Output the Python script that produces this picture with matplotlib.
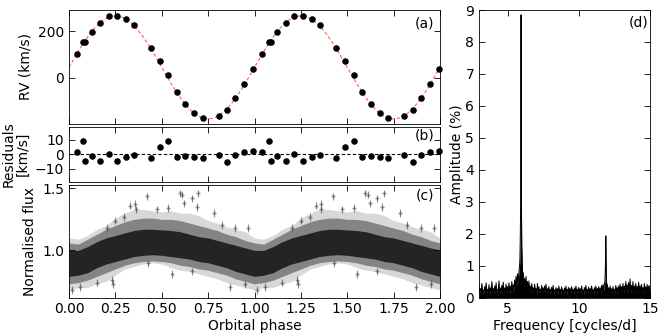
import numpy as np
import matplotlib
matplotlib.use("Agg")
import matplotlib.pyplot as plt

plt.rcParams['font.family'] = ['DejaVu Sans']
plt.rcParams['font.size'] = 10

# ---------------- data ----------------
# RV measurements (one orbital cycle, phase-folded, shown twice)
rv_phase = [0.041, 0.076, 0.087, 0.122, 0.168, 0.214, 0.260, 0.308, 0.352, 0.442,
            0.488, 0.535, 0.582, 0.628, 0.676, 0.720, 0.807, 0.853, 0.897, 0.945, 0.993]
rv_value = [100, 153, 153, 196, 233, 264, 264, 253, 224, 126,
            71, 11, -61, -113, -150, -173, -163, -137, -87, -27, 37]
rv_resid = [1.4, 9.0, -4.9, -1.2, -4.9, 0.0, -4.4, -1.9, -0.5, -2.6,
            4.9, 9.5, -2.1, -1.4, -1.9, -2.6, -0.7, -5.1, -0.7, 1.9, 2.3]
# orbital model parameters (systemic velocity, semi-amplitude)
gamma_kms = 45.0
K_kms = 220.0

# phase-folded light curve envelope
lc_phase = [0.00, 0.05, 0.10, 0.15, 0.20, 0.25, 0.30, 0.35, 0.40, 0.45, 0.50,
            0.55, 0.60, 0.65, 0.70, 0.75, 0.80, 0.85, 0.90, 0.95, 1.00]
lc_core_hi = [1.00, 1.00, 1.03, 1.07, 1.10, 1.12, 1.14, 1.16, 1.17, 1.17, 1.165,
              1.16, 1.15, 1.13, 1.11, 1.10, 1.08, 1.06, 1.04, 1.02, 1.00]
lc_core_lo = [0.79, 0.80, 0.82, 0.86, 0.89, 0.91, 0.93, 0.95, 0.96, 0.965, 0.96,
              0.95, 0.94, 0.93, 0.91, 0.90, 0.88, 0.86, 0.83, 0.81, 0.79]
lc_halo_hi = [1.06, 1.05, 1.09, 1.13, 1.17, 1.20, 1.23, 1.25, 1.26, 1.26, 1.25,
              1.25, 1.24, 1.22, 1.20, 1.18, 1.16, 1.13, 1.11, 1.08, 1.06]
lc_halo_lo = [0.73, 0.74, 0.76, 0.79, 0.82, 0.85, 0.88, 0.90, 0.91, 0.915, 0.91,
              0.90, 0.88, 0.87, 0.85, 0.84, 0.82, 0.80, 0.77, 0.75, 0.73]
lc_outer_hi = [1.10, 1.09, 1.12, 1.17, 1.20, 1.26, 1.30, 1.33, 1.33, 1.32, 1.31,
               1.32, 1.30, 1.30, 1.28, 1.24, 1.22, 1.19, 1.17, 1.15, 1.10]
lc_outer_lo = [0.68, 0.70, 0.70, 0.73, 0.75, 0.80, 0.85, 0.87, 0.89, 0.90, 0.89,
               0.86, 0.84, 0.83, 0.81, 0.79, 0.77, 0.74, 0.72, 0.70, 0.68]
# individual outlying photometric points
out_phase = [0.422, 0.598, 0.611, 0.661, 0.697, 0.688, 0.356, 0.360, 0.473, 0.535,
             0.298, 0.203, 0.783, 0.823, 0.895, 0.967, 0.250, 0.330, 0.620,
             0.014, 0.059, 0.230, 0.236, 0.428, 0.553, 0.661, 0.868, 0.949, 0.150]
out_flux = [1.435, 1.46, 1.45, 1.42, 1.46, 1.35, 1.375, 1.33, 1.33, 1.34,
            1.27, 1.18, 1.30, 1.205, 1.18, 1.18, 1.24, 1.36, 1.38,
            0.68, 0.705, 0.76, 0.73, 0.895, 0.81, 0.83, 0.705, 0.73, 0.74]

# amplitude spectrum (frequency in cycles/d, amplitude in %)
# local maxima of the noise, on a 0.1 c/d grid
noise_top_freq = [round(3.0 + 0.1 * i, 2) for i in range(121)]
noise_top_amp = [0.36, 0.28, 0.44, 0.24, 0.34, 0.46, 0.26, 0.40, 0.30, 0.50,
                 0.28, 0.36, 0.46, 0.26, 0.52, 0.30, 0.38, 0.48, 0.30, 0.42,
                 0.34, 0.46, 0.36, 0.50, 0.40, 0.55, 0.66, 0.74, 0.80, 0.9,
                 1.0, 0.76, 0.60, 0.66, 0.50, 0.52, 0.36, 0.44, 0.30, 0.42,
                 0.28, 0.44, 0.34, 0.26, 0.38, 0.30, 0.36, 0.42, 0.28, 0.34,
                 0.26, 0.32, 0.38, 0.24, 0.31, 0.28, 0.36, 0.26, 0.33, 0.24,
                 0.30, 0.36, 0.26, 0.32, 0.28, 0.34, 0.25, 0.30, 0.36, 0.26,
                 0.32, 0.28, 0.36, 0.24, 0.31, 0.38, 0.26, 0.33, 0.28, 0.36,
                 0.25, 0.31, 0.36, 0.28, 0.34, 0.30, 0.38, 0.40, 0.45, 0.5,
                 0.40, 0.31, 0.36, 0.28, 0.34, 0.26, 0.38, 0.31, 0.36, 0.42,
                 0.34, 0.44, 0.36, 0.50, 0.40, 0.47, 0.58, 0.38, 0.50, 0.36,
                 0.44, 0.34, 0.48, 0.36, 0.41, 0.31, 0.44, 0.34, 0.41, 0.36, 0.38]
# local minima of the noise, halfway between the maxima
noise_low_freq = [round(3.05 + 0.1 * i, 2) for i in range(120)]
noise_low_amp = [0.14, 0.18, 0.11, 0.16, 0.20, 0.13, 0.17, 0.10, 0.19, 0.15,
                 0.12, 0.18, 0.14, 0.21, 0.11, 0.16, 0.19, 0.13, 0.17, 0.15,
                 0.18, 0.12, 0.20, 0.16, 0.24, 0.30, 0.36, 0.44, 0.5, 0.6,
                 0.50, 0.36, 0.32, 0.26, 0.21, 0.16, 0.19, 0.13, 0.18, 0.15,
                 0.11, 0.17, 0.14, 0.19, 0.12, 0.16, 0.18, 0.13, 0.15, 0.11,
                 0.17, 0.14, 0.12, 0.18, 0.15, 0.10, 0.16, 0.13, 0.17, 0.12,
                 0.15, 0.11, 0.18, 0.14, 0.12, 0.16, 0.10, 0.15, 0.13, 0.17,
                 0.11, 0.14, 0.16, 0.12, 0.18, 0.13, 0.15, 0.11, 0.17, 0.14,
                 0.12, 0.16, 0.13, 0.18, 0.11, 0.15, 0.17, 0.20, 0.28, 0.25,
                 0.18, 0.14, 0.16, 0.12, 0.18, 0.15, 0.11, 0.17, 0.14, 0.19,
                 0.13, 0.16, 0.20, 0.14, 0.18, 0.22, 0.15, 0.19, 0.13, 0.17,
                 0.14, 0.18, 0.12, 0.16, 0.19, 0.13, 0.17, 0.15, 0.18, 0.14]
# the orbital peak and its first harmonic
peak_freq = [5.84, 5.87, 5.90, 5.925, 5.95, 5.975, 6.0, 6.03, 6.06,
             11.83, 11.86, 11.88, 11.90, 11.92, 11.95, 11.97]
peak_amp = [0.95, 1.2, 2.0, 3.0, 8.85, 3.0, 1.6, 1.1, 0.8,
            0.45, 0.8, 1.2, 1.93, 1.0, 0.5, 0.35]

# ---------------- figure ----------------
fig = plt.figure(figsize=(6.64, 3.36), dpi=100)
L, R = 69 / 664, 440 / 664
def box(top, bot, left=L, right=R):
    return [left, 1 - bot / 336, right - left, (bot - top) / 336]

ax_a = fig.add_axes(box(10, 123.5))
ax_b = fig.add_axes(box(127, 181.5))
ax_c = fig.add_axes(box(185, 297.5))
ax_d = fig.add_axes(box(10, 297.5, 479 / 664, 650 / 664))

for ax in (ax_a, ax_b, ax_c, ax_d):
    ax.tick_params(direction='in', top=True, right=True, length=4, width=0.6,
                   labelsize=10)
    for s in ax.spines.values():
        s.set_linewidth(0.6)

xt = [0.0, 0.25, 0.5, 0.75, 1.0, 1.25, 1.5, 1.75, 2.0]
ph_rv = np.array(rv_phase)
ph2 = np.concatenate([ph_rv, ph_rv + 1])

# (a) RV curve
model_ph = np.linspace(0, 2, 400)
ax_a.plot(model_ph, gamma_kms + K_kms * np.sin(2 * np.pi * model_ph),
          ls='--', color='#ff6060', lw=0.8, dashes=(3, 2))
ax_a.plot(ph2, rv_value * 2, 'o', color='black', ms=3.7, clip_on=False, zorder=3)
ax_a.set_xlim(0, 2)
ax_a.set_ylim(-195, 290)
ax_a.set_yticks([0, 200])
ax_a.set_xticks(xt)
ax_a.set_xticklabels([])
ax_a.set_ylabel('RV (km/s)')
ax_a.text(0.985, 0.885, '(a)', transform=ax_a.transAxes, ha='right', va='center')

# (b) residuals
ax_b.axhline(0, color='black', ls='--', lw=0.8, dashes=(3, 2))
ax_b.plot(ph2, rv_resid * 2, 'o', color='black', ms=3.7, clip_on=False, zorder=3)
ax_b.set_xlim(0, 2)
ax_b.set_ylim(-19, 19)
ax_b.set_yticks([-10, 0, 10])
ax_b.set_xticks(xt)
ax_b.set_xticklabels([])
ax_b.set_ylabel('Residuals\n[km/s]', linespacing=1.0)
ax_b.text(0.985, 0.85, '(b)', transform=ax_b.transAxes, ha='right', va='center')

# (c) light curve
lp = np.array(lc_phase)
lp2 = np.concatenate([lp, lp[1:] + 1])
def tile(a):
    a = np.array(a)
    return np.concatenate([a, a[1:]])
ax_c.fill_between(lp2, tile(lc_outer_lo), tile(lc_outer_hi), color='0.5',
                  alpha=0.3, lw=0)
ax_c.fill_between(lp2, tile(lc_halo_lo), tile(lc_halo_hi), color='0.3',
                  alpha=0.6, lw=0)
ax_c.fill_between(lp2, tile(lc_core_lo), tile(lc_core_hi), color='0.1',
                  alpha=0.9, lw=0)
op = np.array(out_phase)
of = np.array(out_flux)
ax_c.errorbar(np.concatenate([op, op + 1]), np.concatenate([of, of]), yerr=0.03,
              fmt='+', color='0.3', ms=3, elinewidth=0.8, alpha=0.6)
ax_c.set_xlim(0, 2)
ax_c.set_ylim(0.62, 1.527)
ax_c.set_yticks([1.0, 1.5])
ax_c.set_xticks(xt)
ax_c.set_xticklabels(['%.2f' % v for v in xt])
ax_c.set_xlabel('Orbital phase', labelpad=2)
ax_c.set_ylabel('Normalised flux')
ax_c.text(0.985, 0.91, '(c)', transform=ax_c.transAxes, ha='right', va='center')

# (d) amplitude spectrum
f_all = np.concatenate([noise_top_freq, noise_low_freq])
a_all = np.concatenate([noise_top_amp, noise_low_amp])
keep = (np.abs(f_all - 5.95) > 0.12) & (np.abs(f_all - 11.9) > 0.08)
f_all = np.concatenate([f_all[keep], peak_freq])
a_all = np.concatenate([a_all[keep], peak_amp])
order = np.argsort(f_all)
f_all, a_all = f_all[order], a_all[order]
ax_d.fill_between(f_all, 0, a_all, color='black', lw=0)
ax_d.plot(f_all, a_all, color='black', lw=0.7)
ax_d.set_xlim(3, 15)
ax_d.set_ylim(0, 9)
ax_d.set_xticks([5, 10, 15])
ax_d.set_yticks(range(10))
ax_d.set_xlabel('Frequency [cycles/d]', labelpad=2)
ax_d.set_ylabel('Amplitude (%)', labelpad=1)
ax_d.text(0.99, 0.955, '(d)', transform=ax_d.transAxes, ha='right', va='center')

fig.savefig('out.png', dpi=100)
